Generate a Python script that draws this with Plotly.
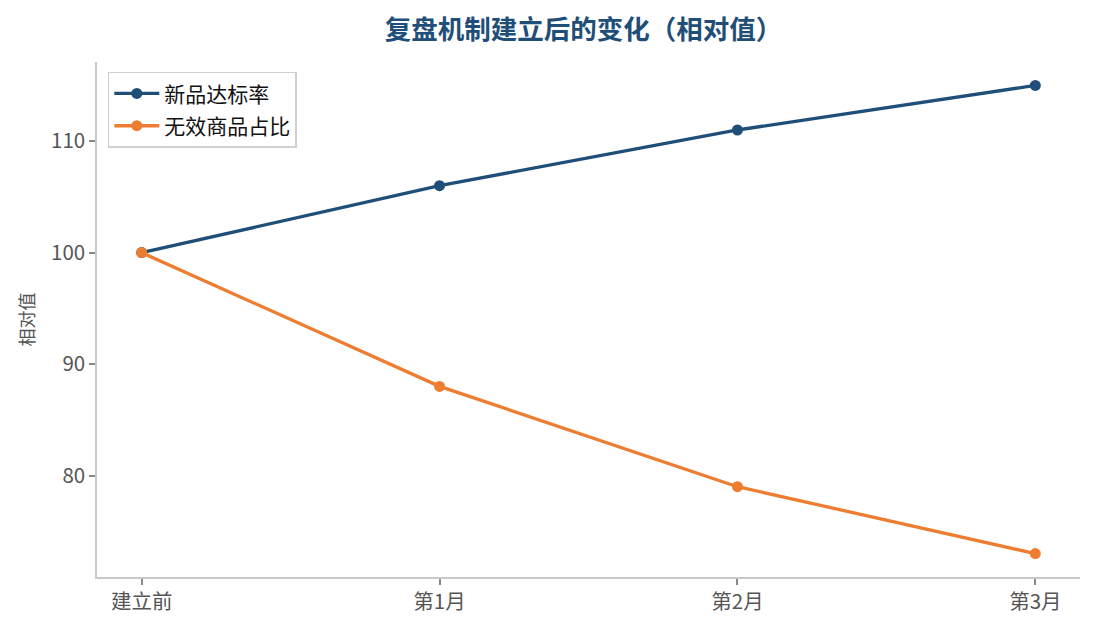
import plotly.graph_objects as go

categories = ["建立前", "第1月", "第2月", "第3月"]
new_rate = [100, 106, 111, 115]
invalid_ratio = [100, 88, 79, 73]
y_ticks = [80, 90, 100, 110]

FONT = "Noto Sans CJK SC"
BLUE = "#1f4e79"
ORANGE = "#ed7d31"

fig = go.Figure()
fig.add_trace(go.Scatter(x=list(range(len(categories))), y=new_rate, mode="lines+markers",
                         name="新品达标率", legendgroup="a", line=dict(color=BLUE, width=3.3),
                         marker=dict(size=11, color=BLUE)))
fig.add_trace(go.Scatter(x=list(range(len(categories))), y=invalid_ratio, mode="lines+markers",
                         name="无效商品占比", legendgroup="b", line=dict(color=ORANGE, width=3.3),
                         marker=dict(size=11, color=ORANGE)))

fig.update_layout(
    width=1095, height=630,
    margin=dict(l=89, r=23, t=54, b=61),
    paper_bgcolor="white", plot_bgcolor="white",
    font=dict(family=FONT, color="#555555", size=20),
    title=dict(text="<b>复盘机制建立后的变化（相对值）</b>", x=0.495, xref="paper", xanchor="center",
               y=0.965, yanchor="middle", font=dict(size=26.5, color=BLUE, family=FONT)),
    xaxis=dict(range=[-0.15, 3.15], tickmode="array", tickvals=list(range(len(categories))),
               ticktext=categories, showgrid=False, zeroline=False,
               showline=True, linecolor="#c8c8c8", linewidth=1.5,
               ticks="outside", ticklen=6, tickcolor="#888888", tickwidth=1.5,
               tickfont=dict(size=20.5, color="#555555")),
    yaxis=dict(range=[70.9, 117.1], tickmode="array", tickvals=y_ticks,
               showgrid=False, zeroline=False,
               showline=True, linecolor="#c8c8c8", linewidth=1.5,
               ticks="outside", ticklen=6, tickcolor="#888888", tickwidth=1.5,
               tickfont=dict(size=20.5, color="#555555"),
               title=dict(text="相对值", font=dict(size=18, color="#555555"), standoff=12)),
    legend=dict(x=0.011, y=0.981, xanchor="left", yanchor="top",
                bgcolor="white", bordercolor="#d0d0d0", borderwidth=1.5,
                font=dict(size=21, color="#111111"), itemwidth=45, tracegroupgap=2),
    showlegend=True,
)

fig.write_html("out.html")
